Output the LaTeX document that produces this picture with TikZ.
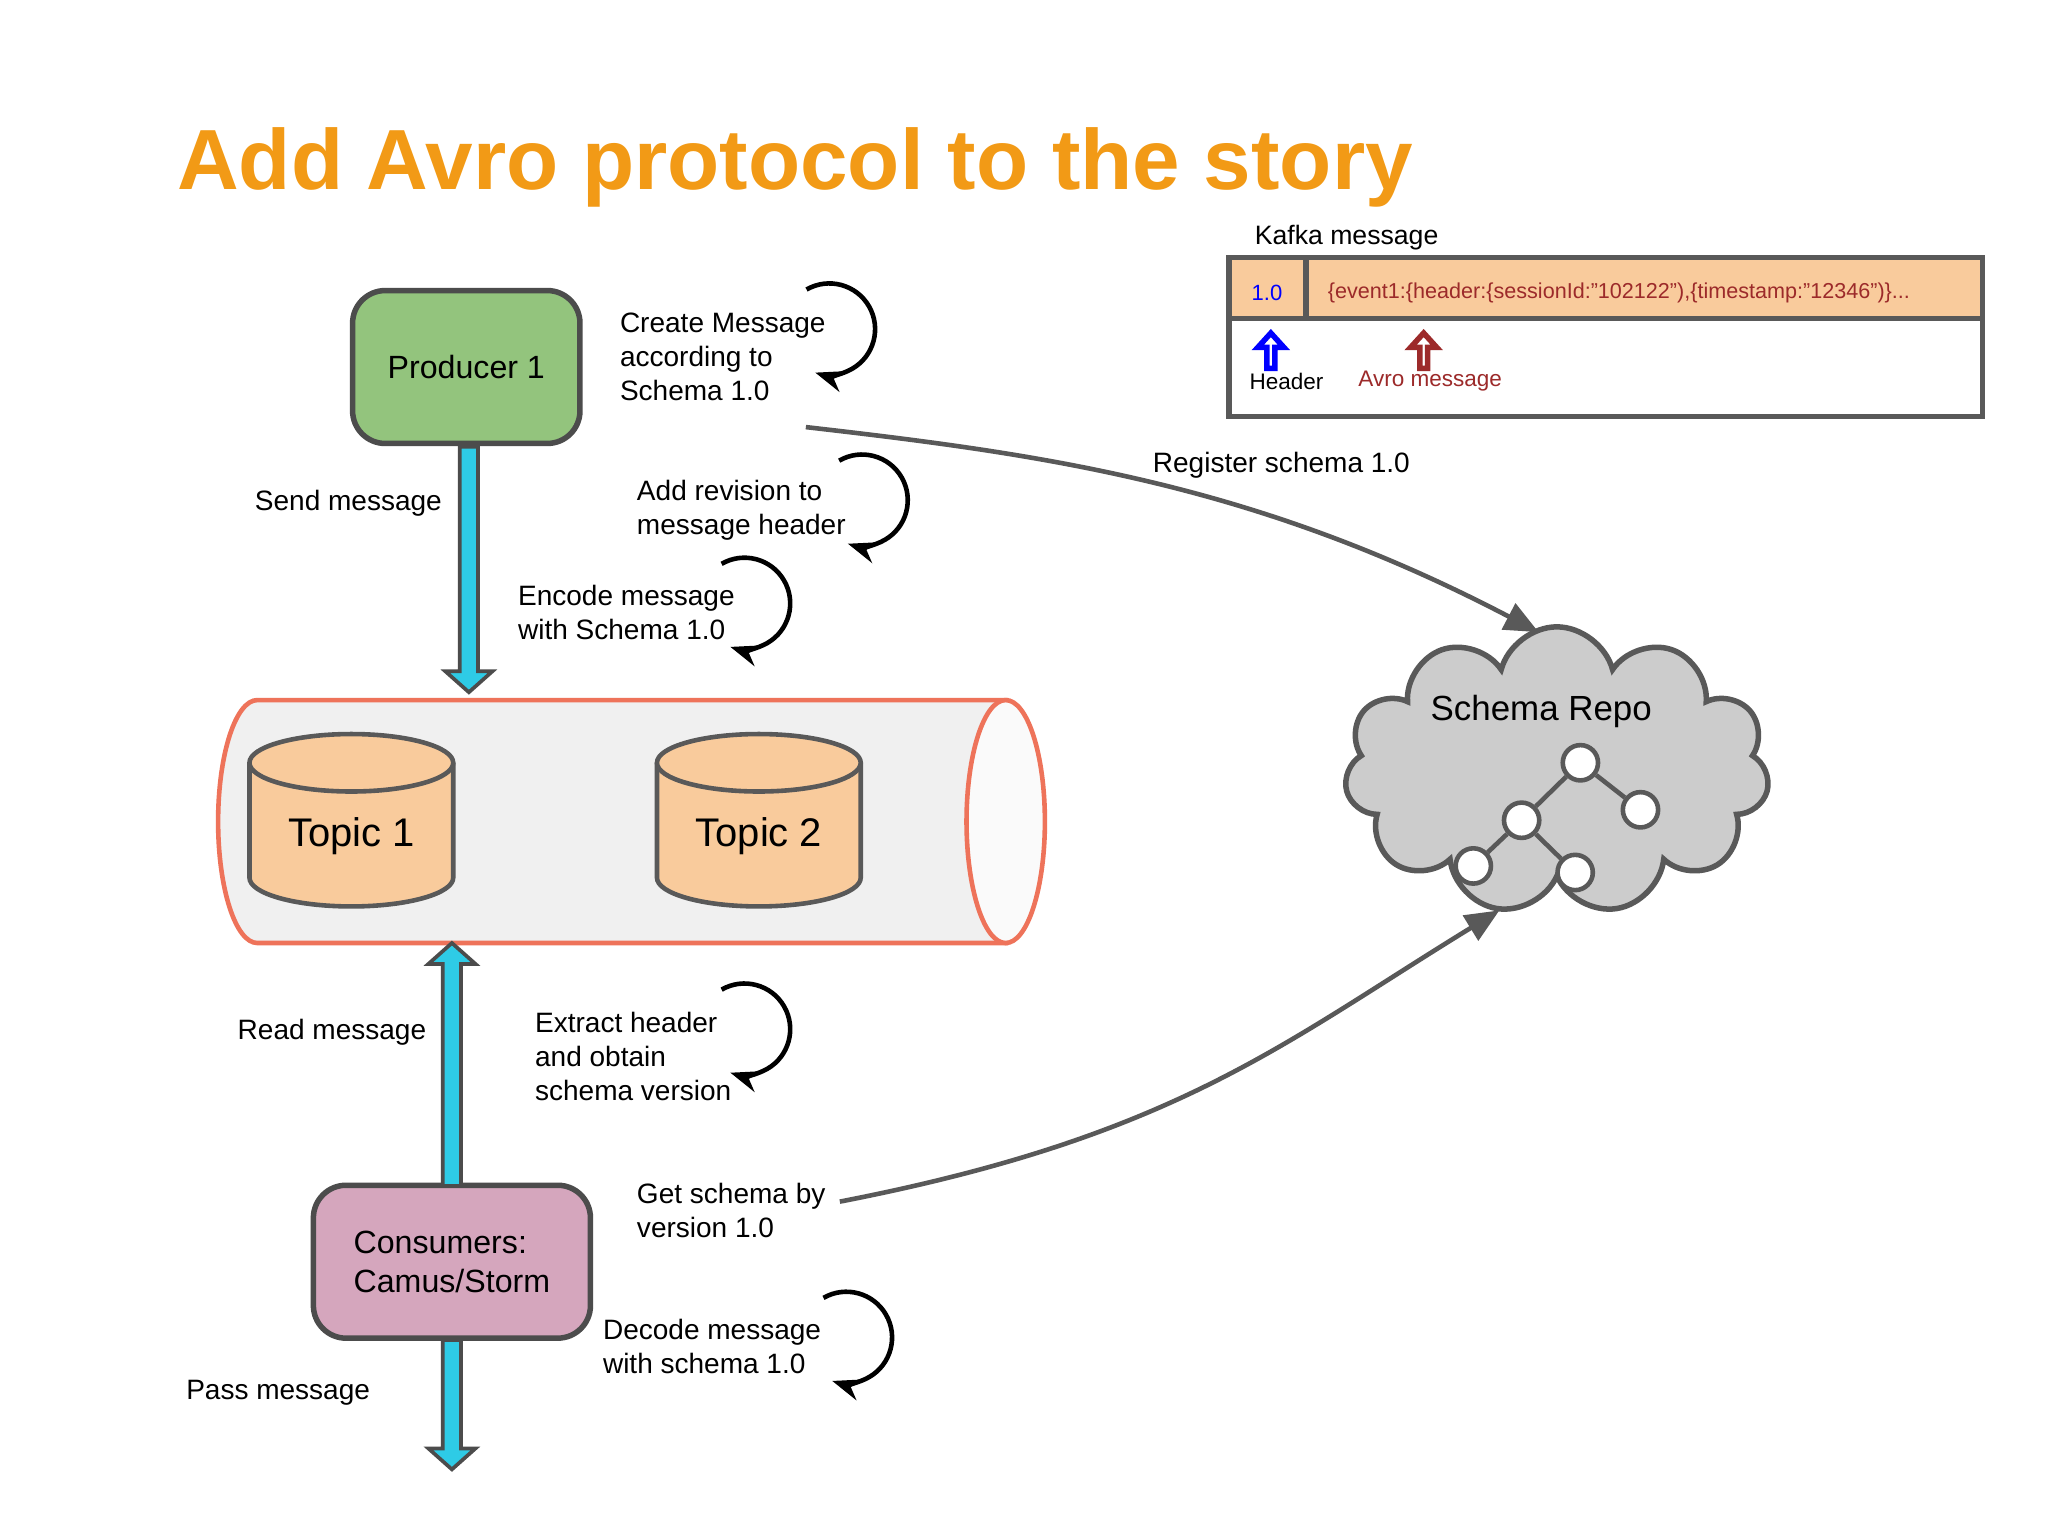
\documentclass[tikz,border=0pt]{standalone}
\usepackage{fontspec}
\setmainfont{Liberation Sans}
\usetikzlibrary{shapes.geometric, shapes.symbols, arrows.meta, calc}
\definecolor{titleorange}{HTML}{F29A16}
\definecolor{prodgreen}{HTML}{93C47D}
\definecolor{conspink}{HTML}{D5A6BD}
\definecolor{topicorange}{HTML}{F9CB9C}
\definecolor{pipered}{HTML}{EE735A}
\definecolor{arrowcyan}{HTML}{2ECBE6}
\definecolor{avrored}{HTML}{9C2A2A}
\tikzset{
  lbl/.style={font=\fontsize{6.1}{7.4}\selectfont, align=left, inner sep=0pt},
  box/.style={rounded corners=2.5mm, draw=black!70, line width=1.2pt, minimum width=1.74cm, minimum height=1.17cm, font=\fontsize{7}{8.6}\selectfont, align=left},
  topicline/.style={draw=black!65, line width=1pt, fill=topicorange},
  topictxt/.style={font=\fontsize{8.7}{10}\selectfont},
  loop/.style={line width=1pt, -{Stealth[length=2.2mm]}},
  link/.style={draw=black!65, line width=1pt, -{Triangle[length=2.6mm,width=2.2mm]}},
  blk/.style={draw=black!70, fill=arrowcyan, line width=0.8pt}
}
% vertical block arrow from #1 to tip #2, #3 = head length (sign gives direction)
\newcommand\blkarrow[3]{\path[blk] let \p1=(#1), \p2=(#2) in
  (\x1-0.7mm,\y1) -- (\x1-0.7mm,\y2+#3) -- (\x1-1.8mm,\y2+#3) -- (\x1,\y2)
  -- (\x1+1.8mm,\y2+#3) -- (\x1+0.7mm,\y2+#3) -- (\x1+0.7mm,\y1) -- cycle;}
\newcommand\turnloop[2]{\draw[loop] ($(#1,#2)+(-120:35)$) arc[start angle=-120, end angle=108, radius=35];}
\newcommand\hollowup[2]{\draw[#2, line width=1.2pt] (#1) ++(-3,0) -- ++(0,-16) -- ++(-7,0) -- ++(10,-11) -- ++(10,11) -- ++(-7,0) -- ++(0,16) -- cycle;}
% topic drum centred at x=#1
\newcommand\drum[1]{\path[topicline] (#1-78,584) -- (#1-78,672) arc[start angle=180, end angle=0, x radius=78, y radius=22] -- (#1+78,584);
  \path[topicline] (#1,584) ellipse[x radius=78, y radius=22];}
\begin{document}
\begin{tikzpicture}[x=0.01cm, y=-0.01cm]
\useasboundingbox[fill=white] (0,0) rectangle (1568,1176);

\node[anchor=west, text=titleorange, font=\bfseries\fontsize{18.6}{22}\selectfont, inner sep=0pt] (title) at (135,128) {Add Avro protocol to the story};

% pipeline
\path[draw=pipered, fill=black!6, line width=1pt] (772,536) -- (197,536) arc[start angle=-90, end angle=-270, x radius=30, y radius=93] -- (772,722);
\path[draw=pipered, fill=black!2, line width=1pt] (770,629) ellipse[x radius=30, y radius=93];
\coordinate (pipetop) at (359,530);
\coordinate (pipebot) at (346,722);
\drum{269}
\drum{581}
\node[topictxt] (t1) at (269,640) {Topic 1};
\node[topictxt] (t2) at (581,640) {Topic 2};

\node[box, fill=prodgreen] (prod) at (357,281) {Producer 1};
\node[box, fill=conspink, minimum width=2.12cm] (cons) at (346,966) {Consumers:\\Camus/Storm};
\coordinate (passend) at (346,1125);

\blkarrow{359,342}{pipetop}{1.6mm}
\blkarrow{346,908}{pipebot}{-1.6mm}
\blkarrow{346,1026}{passend}{1.6mm}

% labels
\node[lbl, anchor=west] (create) at (474,273) {Create Message\\according to\\Schema 1.0};
\node[lbl, anchor=east] (send) at (339,385) {Send message};
\node[lbl, anchor=west] (addrev) at (487,391) {Add revision to\\message header};
\node[lbl, anchor=west] (encode) at (396,469) {Encode message\\with Schema 1.0};
\node[lbl, anchor=east] (read) at (327,790) {Read message};
\node[lbl, anchor=west] (extract) at (409,809) {Extract header\\and obtain\\schema version};
\node[lbl, anchor=west] (getsch) at (487,927) {Get schema by\\version 1.0};
\node[lbl, anchor=west] (decode) at (461,1031) {Decode message\\with schema 1.0};
\node[lbl, anchor=east] (pass) at (284,1066) {Pass message};
\node[lbl, anchor=west] (register) at (882,356) {Register schema 1.0};

\turnloop{635}{252}
\turnloop{660}{383}
\turnloop{570}{462}
\turnloop{570}{788}
\turnloop{648}{1024}

% schema repo
\node[cloud, cloud puffs=11, aspect=1.5, draw=black!65, line width=1.2pt, fill=black!20, minimum width=3.25cm, minimum height=2.2cm] (repo) at (1192,590) {};
\node[font=\fontsize{7.6}{9}\selectfont] (repotxt) at (1180,545) {Schema Repo};
\tikzset{tn/.style={circle, draw=black!65, line width=1pt, fill=white, minimum size=0.27cm, inner sep=0pt}}
\node[tn] (n1) at (1210,584) {};
\node[tn] (n2) at (1256,620) {};
\node[tn] (n3) at (1165,628) {};
\node[tn] (n4) at (1128,663) {};
\node[tn] (n5) at (1206,668) {};
\draw[black!65, line width=1pt] (n1) -- (n2) (n1) -- (n3) (n3) -- (n4) (n3) -- (n5);

\coordinate (regstart) at (617,327);
\coordinate (regend) at (1178,484);
\coordinate (getstart) at (643,920);
\coordinate (getend) at (1148,697);
\draw[link] (regstart) .. controls (800,348) and (960,370) .. (regend);
\draw[link] (getstart) .. controls (900,870) and (980,800) .. (getend);

% kafka message
\node[anchor=west, inner sep=0pt, font=\fontsize{5.8}{7}\selectfont] (kafka) at (960,182) {Kafka message};
\draw[fill=topicorange, draw=black!65, line width=1.2pt] (941,197) rectangle (1518,244);
\draw[draw=black!65, line width=1.2pt] (941,197) rectangle (1518,319);
\draw[draw=black!65, line width=1.2pt] (1000,197) -- (1000,244);
\node[text=blue, font=\fontsize{4.8}{6}\selectfont] (ver) at (970,224) {1.0};
\node[anchor=west, inner sep=0pt, text=avrored, font=\fontsize{4.7}{6}\selectfont] (evt) at (1016,224) {\{event1:\{header:\{sessionId:"102122"),\{timestamp:"12346")\}...};
\coordinate (harr) at (973,282);
\coordinate (aarr) at (1090,282);
\hollowup{harr}{blue}
\hollowup{aarr}{avrored}
\node[font=\fontsize{4.9}{6}\selectfont] (hdr) at (985,292) {Header};
\node[text=avrored, font=\fontsize{4.9}{6}\selectfont] (avro) at (1095,292) {Avro message};
\end{tikzpicture}
\end{document}
